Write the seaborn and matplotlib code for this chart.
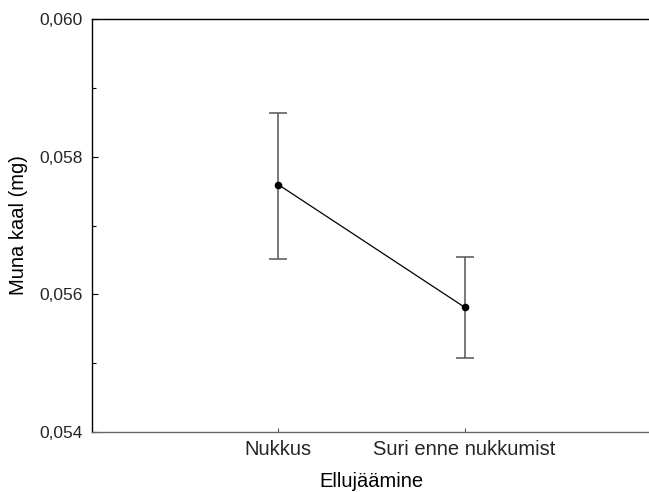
import matplotlib
matplotlib.use("Agg")
import matplotlib.pyplot as plt
import matplotlib.ticker as mticker
import seaborn as sns
import pandas as pd

categories = ["Nukkus", "Suri enne nukkumist"]
means = [0.057594, 0.055812]
upper = [0.058638, 0.056536]
lower = [0.056507, 0.055072]

sns.set_theme(style="white")
plt.rcParams["font.family"] = ["Liberation Sans", "DejaVu Sans"]

df = pd.DataFrame({"pos": range(len(categories)), "mean": means})

fig = plt.figure(figsize=(6.49, 4.92), dpi=100)
ax = fig.add_axes([0.14176, 0.12195, 0.86133, 0.83943])

err_lo = [m - l for m, l in zip(means, lower)]
err_hi = [u - m for m, u in zip(means, upper)]
ax.errorbar(df["pos"], df["mean"], yerr=[err_lo, err_hi], fmt="none",
            ecolor="#555555", elinewidth=1.1, capsize=6.5, capthick=1.1, zorder=2)
sns.lineplot(data=df, x="pos", y="mean", ax=ax, color="black", linewidth=0.9,
             marker="o", markersize=5.5, markeredgewidth=0, zorder=3)

ax.set_xlim(-1.0, 2.0)
ax.set_ylim(0.054, 0.060)
ax.set_xticks(df["pos"])
ax.set_xticklabels(categories)
ax.set_yticks([0.054, 0.056, 0.058, 0.060])
ax.yaxis.set_minor_locator(mticker.MultipleLocator(0.001))
ax.yaxis.set_major_formatter(mticker.FuncFormatter(lambda v, p: f"{v:.3f}".replace(".", ",")))

ax.tick_params(axis="y", which="major", direction="in", length=4, width=0.8,
               color="black", labelsize=12.5, pad=6.5, left=True)
ax.tick_params(axis="y", which="minor", direction="in", length=3, width=0.8,
               color="black", left=True)
ax.tick_params(axis="x", direction="in", length=3, width=0.8, color="#555555",
               labelsize=14.5, pad=6, bottom=True)

for side in ["left", "top"]:
    ax.spines[side].set_color("black")
    ax.spines[side].set_linewidth(1.0)
ax.spines["bottom"].set_color("#666666")
ax.spines["bottom"].set_linewidth(1.0)
ax.spines["right"].set_visible(False)

ax.set_xlabel("Ellujäämine", fontsize=14.5, labelpad=9, color="black")
ax.set_ylabel("Muna kaal (mg)", fontsize=14.5, labelpad=8, color="black")
ax.grid(False)

fig.savefig("out.png", dpi=100)
